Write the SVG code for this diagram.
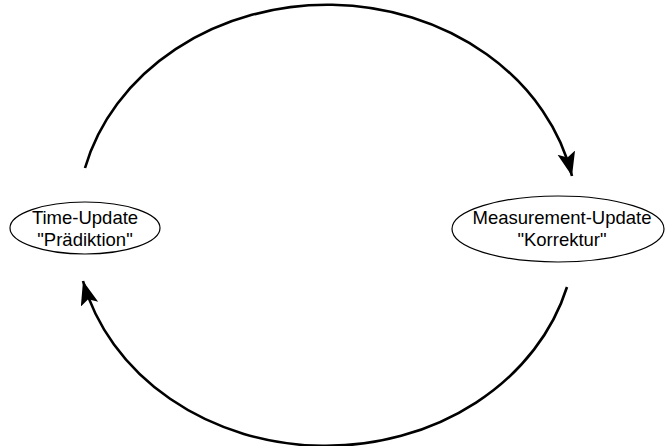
<svg xmlns="http://www.w3.org/2000/svg" width="667" height="446" viewBox="0 0 667 446">
<style>
.node ellipse{fill:#fff;stroke:#000;stroke-width:1.2}
.node text{font-family:"Liberation Sans",Arial,sans-serif;font-size:18.5px;fill:#000;text-anchor:middle}
.conn path{fill:none;stroke:#000;stroke-width:2.6}
</style>
<defs>
<marker id="ah" markerUnits="userSpaceOnUse" markerWidth="26" markerHeight="22" refX="24" refY="9" orient="auto">
<path d="M0,0 L24,9 L0,18 L5,9 Z" fill="#000"/>
</marker>
</defs>
<rect width="667" height="446" fill="#fff"/>
<g class="conn" id="connectors">
<path d="M 85 168 A 250 216 0 0 1 572 176" marker-end="url(#ah)"/>
<path d="M 567 287 A 250 216 0 0 1 83 281" marker-end="url(#ah)"/>
</g>
<g class="node" id="time-update">
<ellipse cx="85" cy="228" rx="75" ry="26"/>
<text x="85" y="224">Time-Update</text>
<text x="85" y="246">"Prädiktion"</text>
</g>
<g class="node" id="measurement-update">
<ellipse cx="558" cy="229" rx="106" ry="33"/>
<text x="562" y="224">Measurement-Update</text>
<text x="562" y="246">"Korrektur"</text>
</g>
</svg>
